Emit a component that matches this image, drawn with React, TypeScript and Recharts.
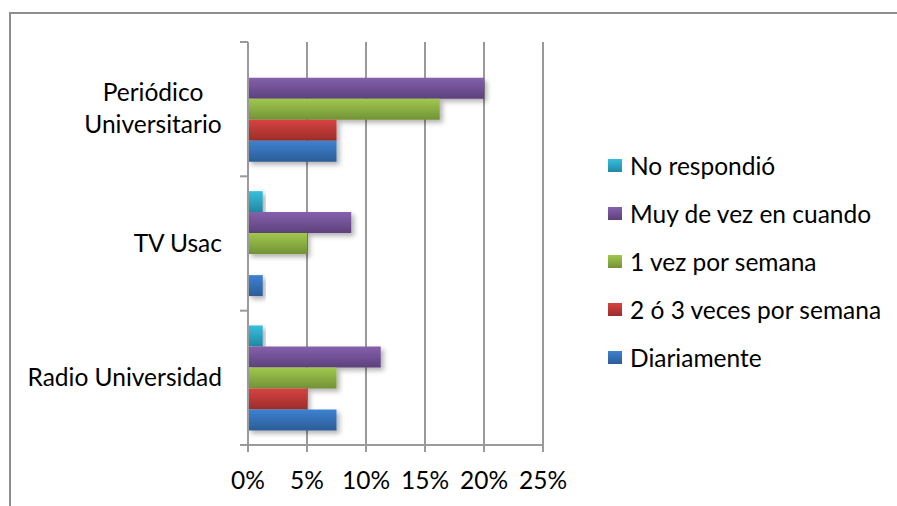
import { BarChart, Bar, XAxis, YAxis, CartesianGrid } from "recharts";

const categories = ["Periódico\nUniversitario", "TV Usac", "Radio Universidad"];
const noRespondio = [0, 1.25, 1.25];
const muyDeVez = [20, 8.75, 11.25];
const unaVez = [16.25, 5, 7.5];
const dosTres = [7.5, 0, 5];
const diariamente = [7.5, 1.25, 7.5];
const xTicks = [0, 5, 10, 15, 20, 25];

const series = [
    { key: "noRespondio", name: "No respondió", values: noRespondio, light: "#37bfdf", dark: "#2288a2" },
    { key: "muyDeVez", name: "Muy de vez en cuando", values: muyDeVez, light: "#8561ad", dark: "#5c417c" },
    { key: "unaVez", name: "1 vez por semana", values: unaVez, light: "#a0c84d", dark: "#739237" },
    { key: "dosTres", name: "2 ó 3 veces por semana", values: dosTres, light: "#d64441", dark: "#9c2c2a" },
    { key: "diariamente", name: "Diariamente", values: diariamente, light: "#3d82d1", dark: "#2c5c98" },
];

const data = categories.map((category, i) => {
    const row: Record<string, any> = { category };
    series.forEach((s) => (row[s.key] = s.values[i]));
    return row;
});

const FONT = "Lato, 'Open Sans', sans-serif";
const FONT_SIZE = 24.5;
const AXIS = "#9a9a9a";

// y axis ticks sit on the category boundaries, the labels in the middle
const CategoryTick = (props: any) => {
    const { x, y, payload, index, visibleTicksCount } = props;
    const half = payload?.offset ?? 67;
    const axisX = x + 26;
    const lines = String(payload.value).split("\n");
    const multi = lines.length > 1;
    return (
        <g>
            <line x1={axisX - 8} x2={axisX} y1={y - half} y2={y - half} stroke={AXIS} strokeWidth={2} />
            {index === visibleTicksCount - 1 && (
                <line x1={axisX - 8} x2={axisX} y1={y + half} y2={y + half} stroke={AXIS} strokeWidth={2} />
            )}
            <text fontFamily={FONT} fontSize={FONT_SIZE} fill="#000" textAnchor={multi ? "middle" : "end"}>
                {lines.map((l, i) => (
                    <tspan key={i} x={multi ? x - 69 : x} y={y + (i - (lines.length - 1) / 2) * 32 + 8}>
                        {l}
                    </tspan>
                ))}
            </text>
        </g>
    );
};

const ChartLegend = () => (
    <div style={{ position: "absolute", left: 608, top: 141, fontFamily: FONT, fontSize: FONT_SIZE, color: "#000" }}>
        {series.map((s) => (
            <div key={s.key} style={{ display: "flex", alignItems: "center", height: 48 }}>
                <span
                    style={{
                        display: "inline-block",
                        width: 14,
                        height: 13,
                        background: `linear-gradient(${s.light}, ${s.dark})`,
                    }}
                />
                <span style={{ marginLeft: 8, whiteSpace: "nowrap" }}>{s.name}</span>
            </div>
        ))}
    </div>
);

export default function App() {
    return (
        <div style={{ position: "fixed", left: 0, top: 0, width: 897, height: 506, background: "#fff" }}>
            <div
                style={{
                    position: "absolute",
                    left: 9,
                    top: 12,
                    right: 0,
                    bottom: 0,
                    borderTop: "2px solid #8e8e8e",
                    borderLeft: "2px solid #8e8e8e",
                }}
            />
            <div style={{ position: "absolute", left: 0, top: 0 }}>
                <BarChart
                    width={897}
                    height={506}
                    data={data}
                    layout="vertical"
                    margin={{ top: 42, right: 354, left: 0, bottom: 0 }}
                    barCategoryGap="11%"
                    barGap={0}
                >
                    <defs>
                        {series.map((s) => (
                            <linearGradient key={s.key} id={`g-${s.key}`} x1="0" y1="0" x2="0" y2="1">
                                <stop offset="0%" stopColor={s.light} />
                                <stop offset="100%" stopColor={s.dark} />
                            </linearGradient>
                        ))}
                        <filter id="shadow" x="-10%" y="-20%" width="130%" height="160%">
                            <feDropShadow dx="3" dy="3" stdDeviation="2.5" floodColor="#000" floodOpacity="0.3" />
                        </filter>
                    </defs>
                    <CartesianGrid vertical horizontal={false} stroke={AXIS} strokeWidth={2} />
                    <XAxis
                        type="number"
                        domain={[0, 25]}
                        ticks={xTicks}
                        tickFormatter={(v: number) => `${v}%`}
                        height={61}
                        tickSize={7}
                        tickMargin={20}
                        axisLine={{ stroke: AXIS, strokeWidth: 2 }}
                        tickLine={{ stroke: AXIS, strokeWidth: 2 }}
                        tick={{ fill: "#000", fontSize: FONT_SIZE, fontFamily: FONT }}
                        interval={0}
                    />
                    <YAxis
                        type="category"
                        dataKey="category"
                        width={248}
                        tickSize={0}
                        tickMargin={26}
                        axisLine={{ stroke: AXIS, strokeWidth: 2 }}
                        tickLine={false}
                        tick={<CategoryTick />}
                        interval={0}
                    />
                    {series.map((s) => (
                        <Bar
                            key={s.key}
                            dataKey={s.key}
                            name={s.name}
                            fill={`url(#g-${s.key})`}
                            filter="url(#shadow)"
                            isAnimationActive={false}
                        />
                    ))}
                </BarChart>
            </div>
            <ChartLegend />
        </div>
    );
}
